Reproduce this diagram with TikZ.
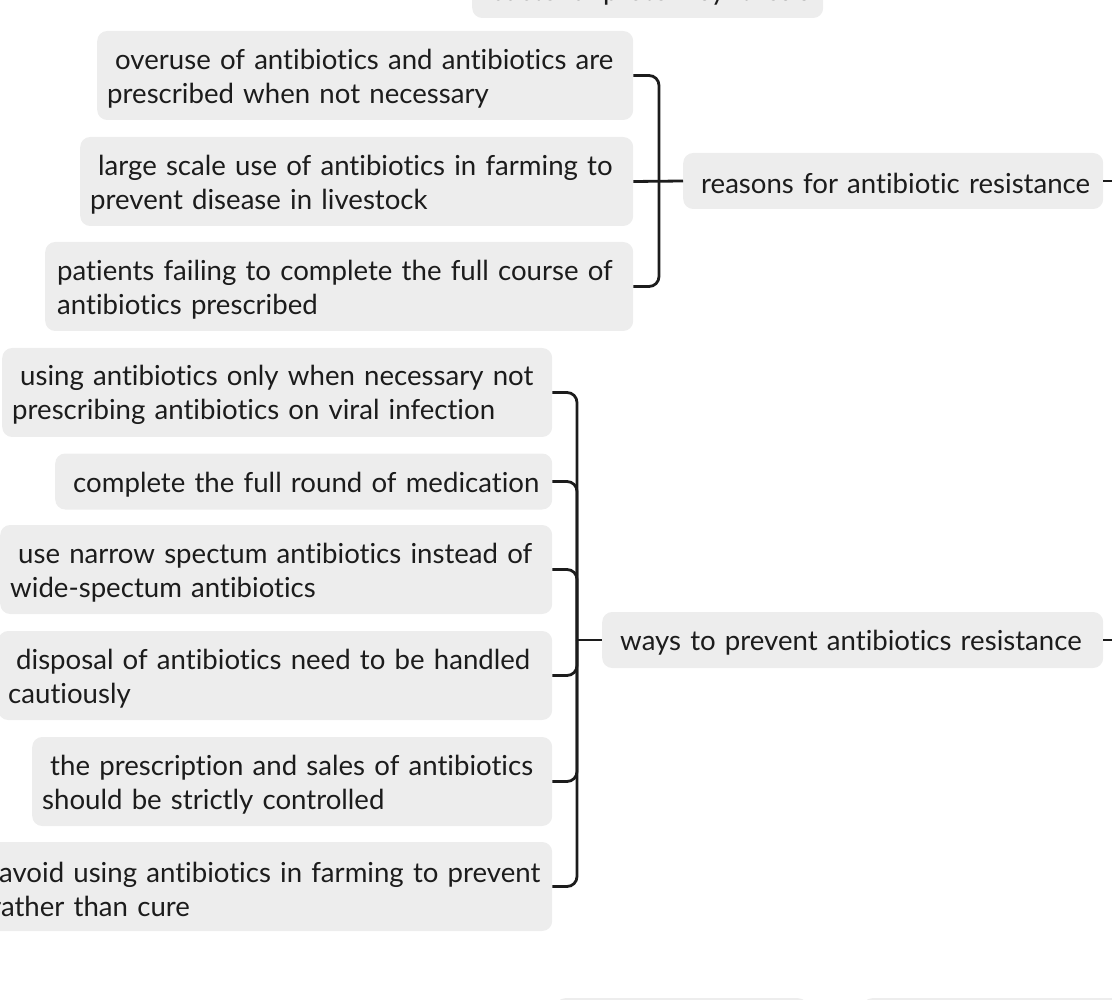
\documentclass[tikz,border=0pt]{standalone}
\usepackage{fontspec}
\setmainfont{Lato}[Ligatures={NoCommon}]
\definecolor{boxgray}{HTML}{EDEDED}
\definecolor{ink}{HTML}{1C1C1C}
\begin{document}
\begin{tikzpicture}[x=1pt,y=-1pt,
  box/.style={fill=boxgray, rounded corners=10pt, inner xsep=10pt, inner ysep=0pt,
    align=left, anchor=west, text=ink, font=\fontsize{27.6}{34}\selectfont},
  two/.style={minimum height=89pt},
  one/.style={minimum height=56pt},
  conn/.style={draw=ink, line width=2.8pt, rounded corners=10pt}]
\useasboundingbox (0,0) rectangle (1112,1000);
\clip (0,0) rectangle (1112,1000);
\newcommand{\myst}{\rule{0pt}{26pt}}
\newcommand{\ind}{\myst\hspace*{8pt}}
% top (cut) node
\node[box,one,text width=331pt] (top) at (472,-10) {\ind bacterial protein synthesis};
% reasons
\node[box,two,text width=516pt] (r1) at (97,75.5) {\ind overuse of antibiotics and antibiotics are\\prescribed when not necessary};
\node[box,two,text width=533pt] (r2) at (80,181.5) {\ind large scale use of antibiotics in farming to\\prevent disease in livestock};
\node[box,two,inner xsep=12pt,text width=564pt] (r3) at (45,286.5) {\myst patients failing to complete the full course of\\antibiotics prescribed};
\node[box,one,text width=400pt] (reason) at (683,181) {\ind reasons for antibiotic resistance};
% ways
\node[box,two,text width=530pt] (w1) at (2,392.5) {\ind using antibiotics only when necessary not\\prescribing antibiotics on viral infection};
\node[box,one,text width=477pt] (w2) at (55,481.5) {\ind complete the full round of medication};
\node[box,two,text width=532pt] (w3) at (0,569.5) {\ind use narrow spectum antibiotics instead of\\wide-spectum antibiotics};
\node[box,two,text width=534pt] (w4) at (-2,675.5) {\ind disposal of antibiotics need to be handled\\cautiously};
\node[box,two,text width=500pt] (w5) at (32,781.5) {\ind the prescription and sales of antibiotics\\should be strictly controlled};
\node[box,two,text width=551pt] (w6) at (-19,886.5) {\ind avoid using antibiotics in farming to prevent\\rather than cure};
\node[box,one,text width=481pt] (ways) at (602,640) {\ind ways to prevent antibiotics resistance};
% bottom (cut) nodes
\node[box,one,anchor=north west,text width=233pt] (b1) at (555,998) {};
\node[box,one,anchor=north west,text width=260pt] (b2) at (862,998) {};
% connectors
\coordinate (rs) at (659,181);
\coordinate (rout) at (1125,181);
\draw[conn] (r1.east) -| (rs);
\draw[conn] (r3.east) -| (rs);
\draw[conn] (r2.east) -- (reason.west);
\draw[conn] (reason.east) -- (rout);
\coordinate (ws) at (577,640);
\coordinate (wout) at (1125,640);
\foreach \n in {w1,w2,w3,w4,w5,w6} \draw[conn] (\n.east) -| (ws);
\draw[conn] (ws) -- (ways.west);
\draw[conn] (ways.east) -- (wout);
\end{tikzpicture}
\end{document}
